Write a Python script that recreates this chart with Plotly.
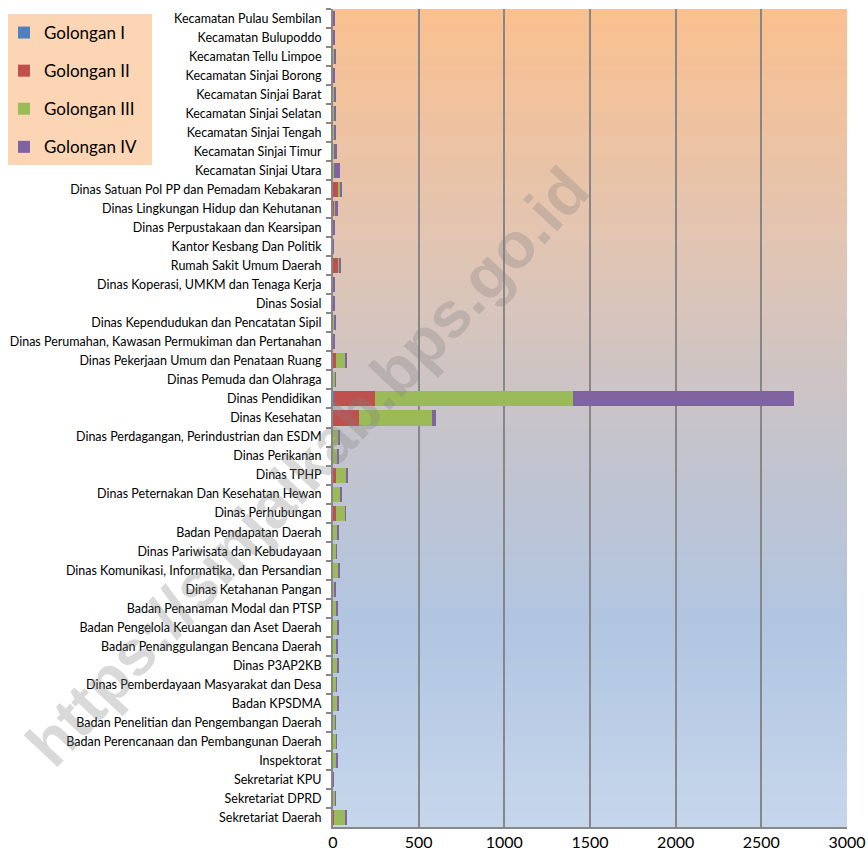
import plotly.graph_objects as go

categories = [
    "Kecamatan Pulau Sembilan", "Kecamatan Bulupoddo", "Kecamatan Tellu Limpoe",
    "Kecamatan Sinjai Borong", "Kecamatan Sinjai Barat", "Kecamatan Sinjai Selatan",
    "Kecamatan Sinjai Tengah", "Kecamatan Sinjai Timur", "Kecamatan Sinjai Utara",
    "Dinas Satuan Pol PP dan Pemadam Kebakaran", "Dinas Lingkungan Hidup dan Kehutanan",
    "Dinas Perpustakaan dan Kearsipan", "Kantor Kesbang Dan Politik", "Rumah Sakit Umum Daerah",
    "Dinas Koperasi, UMKM dan Tenaga Kerja", "Dinas Sosial",
    "Dinas Kependudukan dan Pencatatan Sipil",
    "Dinas Perumahan, Kawasan Permukiman dan Pertanahan",
    "Dinas Pekerjaan Umum dan Penataan Ruang", "Dinas Pemuda dan Olahraga",
    "Dinas Pendidikan", "Dinas Kesehatan", "Dinas Perdagangan, Perindustrian dan ESDM",
    "Dinas Perikanan", "Dinas TPHP", "Dinas Peternakan Dan Kesehatan Hewan",
    "Dinas Perhubungan", "Badan Pendapatan Daerah", "Dinas Pariwisata dan Kebudayaan",
    "Dinas Komunikasi, Informatika, dan Persandian", "Dinas Ketahanan Pangan",
    "Badan Penanaman Modal dan PTSP", "Badan Pengelola Keuangan dan Aset Daerah",
    "Badan Penanggulangan Bencana Daerah", "Dinas P3AP2KB",
    "Dinas Pemberdayaan Masyarakat dan Desa", "Badan KPSDMA",
    "Badan Penelitian dan Pengembangan Daerah", "Badan Perencanaan dan Pembangunan Daerah",
    "Inspektorat", "Sekretariat KPU", "Sekretariat DPRD", "Sekretariat Daerah",
]

golongan_1 = [0, 0, 0, 0, 0, 0, 0, 0, 0, 0, 0, 0, 0, 0, 0, 0, 0, 0, 0, 0,
              3, 2, 0, 0, 0, 0, 0, 0, 0, 0, 0, 0, 0, 0, 0, 0, 0, 0, 0, 0, 0, 0, 0]
golongan_2 = [0, 0, 0, 0, 0, 2, 2, 2, 2, 33, 5, 1, 0, 31, 1, 1, 1, 1, 20, 1,
              240, 148, 1, 1, 20, 2, 17, 1, 1, 1, 1, 1, 1, 1, 1, 1, 1, 1, 1, 1, 0, 1, 3]
golongan_3 = [2, 2, 3, 2, 3, 4, 4, 4, 4, 6, 12, 3, 1, 6, 3, 2, 4, 3, 55, 12,
              1160, 430, 32, 28, 60, 40, 54, 28, 18, 32, 9, 22, 28, 22, 26, 18, 28, 14, 20, 18, 1, 14, 72]
golongan_4 = [5, 9, 13, 11, 13, 14, 14, 16, 36, 12, 11, 9, 1, 10, 9, 8, 12, 8, 2, 2,
              1290, 21, 4, 3, 9, 5, 4, 4, 3, 3, 4, 2, 3, 2, 3, 3, 2, 2, 2, 8, 1, 2, 9]

series_names = ["Golongan I", "Golongan II", "Golongan III", "Golongan IV"]
series_values = [golongan_1, golongan_2, golongan_3, golongan_4]
series_colors = ["#4F81BD", "#C0504D", "#9BBB59", "#8064A2"]

x_ticks = [0, 500, 1000, 1500, 2000, 2500, 3000]

W, H = 868, 859

def px(x):
    return x / W

def py(y):
    return 1 - y / H

fig = go.Figure()
for i, (name, vals, col) in enumerate(zip(series_names, series_values, series_colors)):
    fig.add_trace(go.Bar(
        y=categories, x=vals, name=name, orientation="h",
        marker=dict(color=col, line=dict(width=0)),
        legendgroup="g%d" % i,
    ))

# gradient background of the plot area
stops = [(0.0, (250, 192, 143)), (0.295, (225, 197, 180)), (0.515, (198, 196, 203)),
         (0.747, (177, 197, 225)), (1.0, (198, 215, 236))]

def colat(f):
    for (f0, c0), (f1, c1) in zip(stops[:-1], stops[1:]):
        if f0 <= f <= f1:
            t = (f - f0) / (f1 - f0)
            return "rgb(%d,%d,%d)" % tuple(round(a + (b - a) * t) for a, b in zip(c0, c1))
    return "rgb(%d,%d,%d)" % stops[-1][1]

N = 160
shapes = []
for i in range(N):
    shapes.append(dict(
        type="rect", xref="x domain", yref="y domain", x0=0, x1=1,
        y0=1 - (i + 1) / N - 0.001, y1=1 - i / N,
        fillcolor=colat((i + 0.5) / N), line=dict(width=0), layer="below",
    ))

# legend background box
shapes.append(dict(
    type="rect", xref="paper", yref="paper",
    x0=px(8), x1=px(152), y0=py(165), y1=py(14),
    fillcolor="#FCD5B5", line=dict(width=0), layer="below",
))

fig.update_layout(
    width=W, height=H,
    margin=dict(l=0, r=0, t=0, b=0),
    paper_bgcolor="white",
    plot_bgcolor="rgba(0,0,0,0)",
    barmode="stack",
    bargap=0.21,
    shapes=shapes,
    font=dict(family="Lato, Calibri, sans-serif", color="#000000"),
    showlegend=True,
    legend=dict(
        x=px(4), y=py(15), xanchor="left", yanchor="top",
        bgcolor="rgba(0,0,0,0)", borderwidth=0,
        font=dict(size=17, family="Lato, sans-serif", color="#000000"),
        traceorder="grouped", tracegroupgap=13,
    ),
    xaxis=dict(
        domain=[px(333), px(847)], automargin=False,
        range=[0, 3000], tickvals=x_ticks, ticktext=[str(v) for v in x_ticks],
        showgrid=True, gridcolor="#878787", gridwidth=2,
        zeroline=False, showline=True, linecolor="#878787", linewidth=2,
        ticks="", tickfont=dict(size=16, color="#000000"),
        ticklabeloverflow="allow",
    ),
    yaxis=dict(
        domain=[py(827), py(9)], automargin=False,
        categoryorder="array", categoryarray=categories, autorange="reversed",
        tickson="boundaries", ticks="outside", ticklen=5, tickcolor="#878787", tickwidth=2,
        ticklabelstandoff=7,
        showline=True, linecolor="#878787", linewidth=2,
        showgrid=False, zeroline=False,
        tickfont=dict(size=12.5, color="#000000"),
    ),
    annotations=[dict(
        text="<b>https://sinjaikab.bps.go.id</b>", xref="paper", yref="paper",
        x=px(307), y=py(467), showarrow=False, textangle=-47,
        font=dict(size=64, family="Liberation Sans, Arial, sans-serif", color="rgba(128,128,128,0.3)"),
        xanchor="center", yanchor="middle",
    )],
)

fig.write_html(
    "out.html",
    config={"displayModeBar": False},
    post_script="document.body.style.margin='0';document.body.style.overflow='hidden';",
)
